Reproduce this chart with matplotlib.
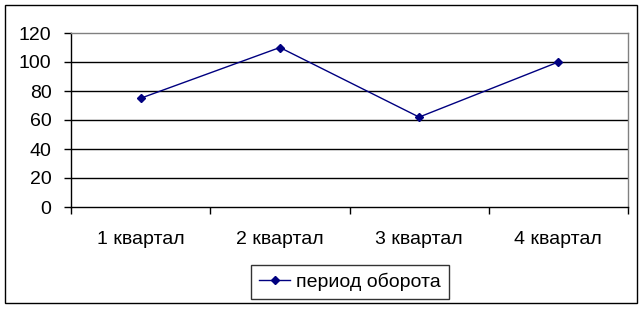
import matplotlib
matplotlib.use("Agg")
import matplotlib.pyplot as plt
import matplotlib.patches as mpatches
import numpy as np

plt.rcParams['font.family'] = ['Liberation Sans', 'DejaVu Sans']

categories = ['1 квартал', '2 квартал', '3 квартал', '4 квартал']
values = [75, 110, 62, 100]
series_name = 'период оборота'
y_ticks = [0, 20, 40, 60, 80, 100, 120]

W, H = 643, 310
fig = plt.figure(figsize=(W / 100, H / 100), dpi=100)

# outer chart border
fig.patches.append(mpatches.Rectangle((5 / W, 7 / H), 632 / W, 298 / H,
                                      transform=fig.transFigure, fill=False,
                                      edgecolor='black', linewidth=1))

# plot area: x 71..628, y 33..207 (pixels from top)
ax = fig.add_axes([71 / W, (H - 207) / H, (628 - 71) / W, (207 - 33) / H])

x = np.arange(len(categories))
ax.plot(x, values, color='#000080', linewidth=1, marker='D', markersize=4,
        label=series_name)

ax.set_xlim(-0.5, len(categories) - 0.5)
ax.set_ylim(0, 120)
ax.set_yticks(y_ticks)
ax.set_yticklabels([str(v) for v in y_ticks], fontsize=14)
ax.set_xticks(x)
ax.set_xticklabels(categories, fontsize=14)
ax.set_xticks(np.arange(len(categories) + 1) - 0.5, minor=True)
ax.tick_params(axis='x', which='major', length=0, pad=17)
ax.tick_params(axis='x', which='minor', length=5, width=1, direction='out')
ax.tick_params(axis='y', length=5, width=1, direction='out', pad=9)

for v in y_ticks[1:-1]:
    ax.axhline(v, color='black', linewidth=1, zorder=0)

ax.spines['left'].set_color('black')
ax.spines['bottom'].set_color('black')
ax.spines['top'].set_color('#808080')
ax.spines['right'].set_color('#808080')
for s in ax.spines.values():
    s.set_linewidth(1)

leg = fig.legend(loc='center', bbox_to_anchor=(350 / W, (H - 282) / H),
                 fontsize=14, frameon=True, fancybox=False, handlelength=1.6,
                 handletextpad=0.3, borderpad=0.4)
leg.get_frame().set_edgecolor('black')
leg.get_frame().set_linewidth(1)

fig.savefig('out.png', dpi=100)
